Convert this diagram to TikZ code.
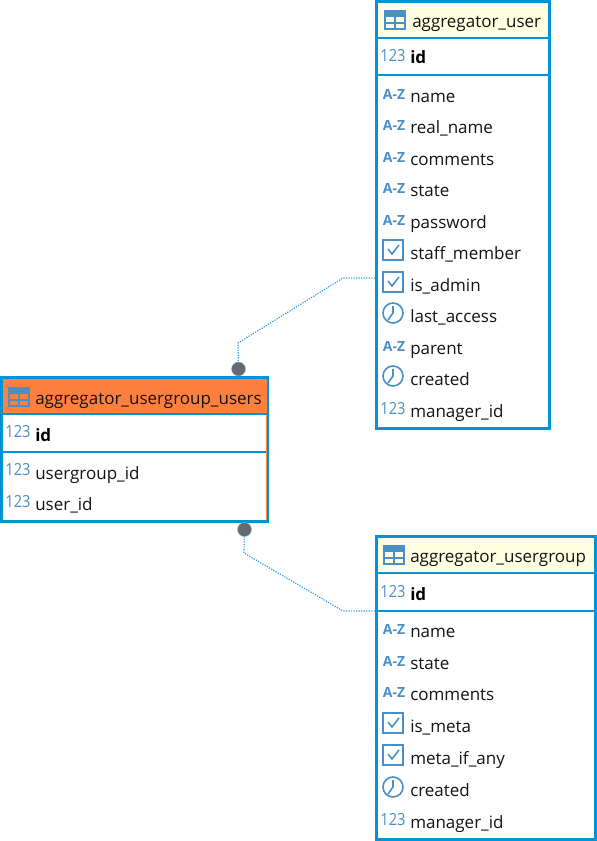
\documentclass[tikz,border=0pt]{standalone}
\usepackage{fontspec}
\setmainfont{Open Sans}
\usetikzlibrary{fit, positioning}
\definecolor{cframe}{HTML}{0094D6}
\definecolor{cicon}{HTML}{4A90C8}
\definecolor{cpale}{HTML}{FFFFE1}
\definecolor{corange}{HTML}{FF7F3F}
\definecolor{cdot}{HTML}{666A70}
\definecolor{crel}{HTML}{2E9FD8}

\begin{document}
\begin{tikzpicture}[
    x=0.75pt, y=-0.75pt,
    tablebox/.style={draw=cframe, fill=white, line width=2.25pt, inner sep=0pt},
    headband/.style={inner sep=0pt, outer sep=0pt},
    sepline/.style={draw=cframe, line width=1.5pt},
    coltext/.style={anchor=base west, inner sep=0pt, font=\fontsize{12.75}{14}\selectfont, text=black!92},
    keytext/.style={coltext, font=\fontsize{12.75}{14}\selectfont\bfseries, text=black},
    headtext/.style={coltext},
    enddot/.style={circle, fill=cdot, draw=crel!60, line width=0.3pt, inner sep=0pt, minimum size=10.5pt},
    rel/.style={draw=crel, line width=0.9pt, densely dotted},
    num/.pic={\node[inner sep=0pt, text=cicon, xscale=0.88, transform shape, font=\fontsize{12.5}{12}\selectfont] (-t) at (12,-1) {123};},
    str/.pic={\node[inner sep=0pt, text=cicon, font=\fontsize{10.5}{12}\selectfont\bfseries] (-t) at (13,-1) {A-Z};},
    chk/.pic={
        \draw[cicon, line width=1.2pt, fill=white] (2,-12) rectangle (22,8);
        \draw[cicon, line width=1.2pt] (7,-3) -- (11,2) -- (18,-7);},
    clk/.pic={
        \draw[cicon, line width=1.2pt, fill=white] (12,-2) circle (10);
        \draw[cicon, line width=1.2pt] (12,-9) -- (12,-2) -- (7,5);},
    tab/.pic={
        \draw[cicon, line width=1.1pt] (0,-9) rectangle (20,9);
        \fill[cicon] (0,-9) rectangle (20,-3);
        \draw[cicon, line width=1.1pt] (0,3) -- (20,3) (10,-3) -- (10,9);}
]
\useasboundingbox (0,0) rectangle (596,841);

%% aggregator_user
\node[tablebox, fit={(376.5,1.5)(549.5,428.5)}] (user) {};
\node[headband, fill=cpale, fit={(378,3)(548,37)}] (userhead) {};
\draw[sepline] (378,38) -- (548,38);
\draw[sepline] (378,74.7) -- (548,74.7);
\pic at (385,20) {tab};
\node[headtext] (usertitle) at (412,28) {aggregator\_user};
\pic at (381,57) {num};
\node[keytext] (userid) at (410,64) {id};
\foreach \ic/\txt/\y in {str/name/96, str/real\_name/127, str/comments/159, str/state/190,
    str/password/222, chk/staff\_member/253, chk/is\_admin/285, clk/last\_access/316,
    str/parent/348, clk/created/379, num/manager\_id/411} {
  \pic at (381,\y-1) {\ic};
  \node[coltext] at (410,\y+6.5) {\txt};
}

%% aggregator_usergroup
\node[tablebox, fit={(376.5,536.5)(595,839.5)}] (group) {};
\node[headband, fill=cpale, fit={(378,538)(594,572)}] (grouphead) {};
\draw[sepline] (378,573) -- (594,573);
\draw[sepline] (378,611) -- (594,611);
\pic at (384,555) {tab};
\node[headtext] (grouptitle) at (410,562.5) {aggregator\_usergroup};
\pic at (381,593) {num};
\node[keytext] (groupid) at (410,600) {id};
\foreach \ic/\txt/\y in {str/name/631, str/state/663, str/comments/694, chk/is\_meta/726,
    chk/meta\_if\_any/758, clk/created/790, num/manager\_id/822} {
  \pic at (381,\y-1) {\ic};
  \node[coltext] at (410,\y+6.5) {\txt};
}

%% aggregator_usergroup_users
\node[tablebox, fit={(1.5,377.5)(267.8,521.5)}] (link) {};
\node[headband, fill=corange, fit={(3,379)(266.5,413)}] (linkhead) {};
\draw[sepline] (3,414) -- (266.5,414);
\draw[sepline] (3,452) -- (266.5,452);
\draw[corange, line width=0.5pt] (266.3,415) -- (266.3,520);
\pic at (9,397) {tab};
\node[headtext] (linktitle) at (35,404) {aggregator\_usergroup\_users};
\pic at (6,433) {num};
\node[keytext] (linkid) at (35,441) {id};
\pic at (6,471) {num};
\node[coltext] (linkgroup) at (35,479) {usergroup\_id};
\pic at (6,503) {num};
\node[coltext] (linkuser) at (35,510.5) {user\_id};

%% Relations
\node[enddot] (userdot) at (238.5,369) {};
\node[enddot] (groupdot) at (244.5,529.5) {};
\coordinate (userend) at (user.west |- 0,278);
\coordinate (groupend) at (group.west |- 0,611);
\draw[rel] (userend) -- (343,278) -- (238,343) -- (userdot);
\draw[rel] (groupend) -- (343,611) -- (244,553) -- (groupdot);

\end{tikzpicture}
\end{document}
